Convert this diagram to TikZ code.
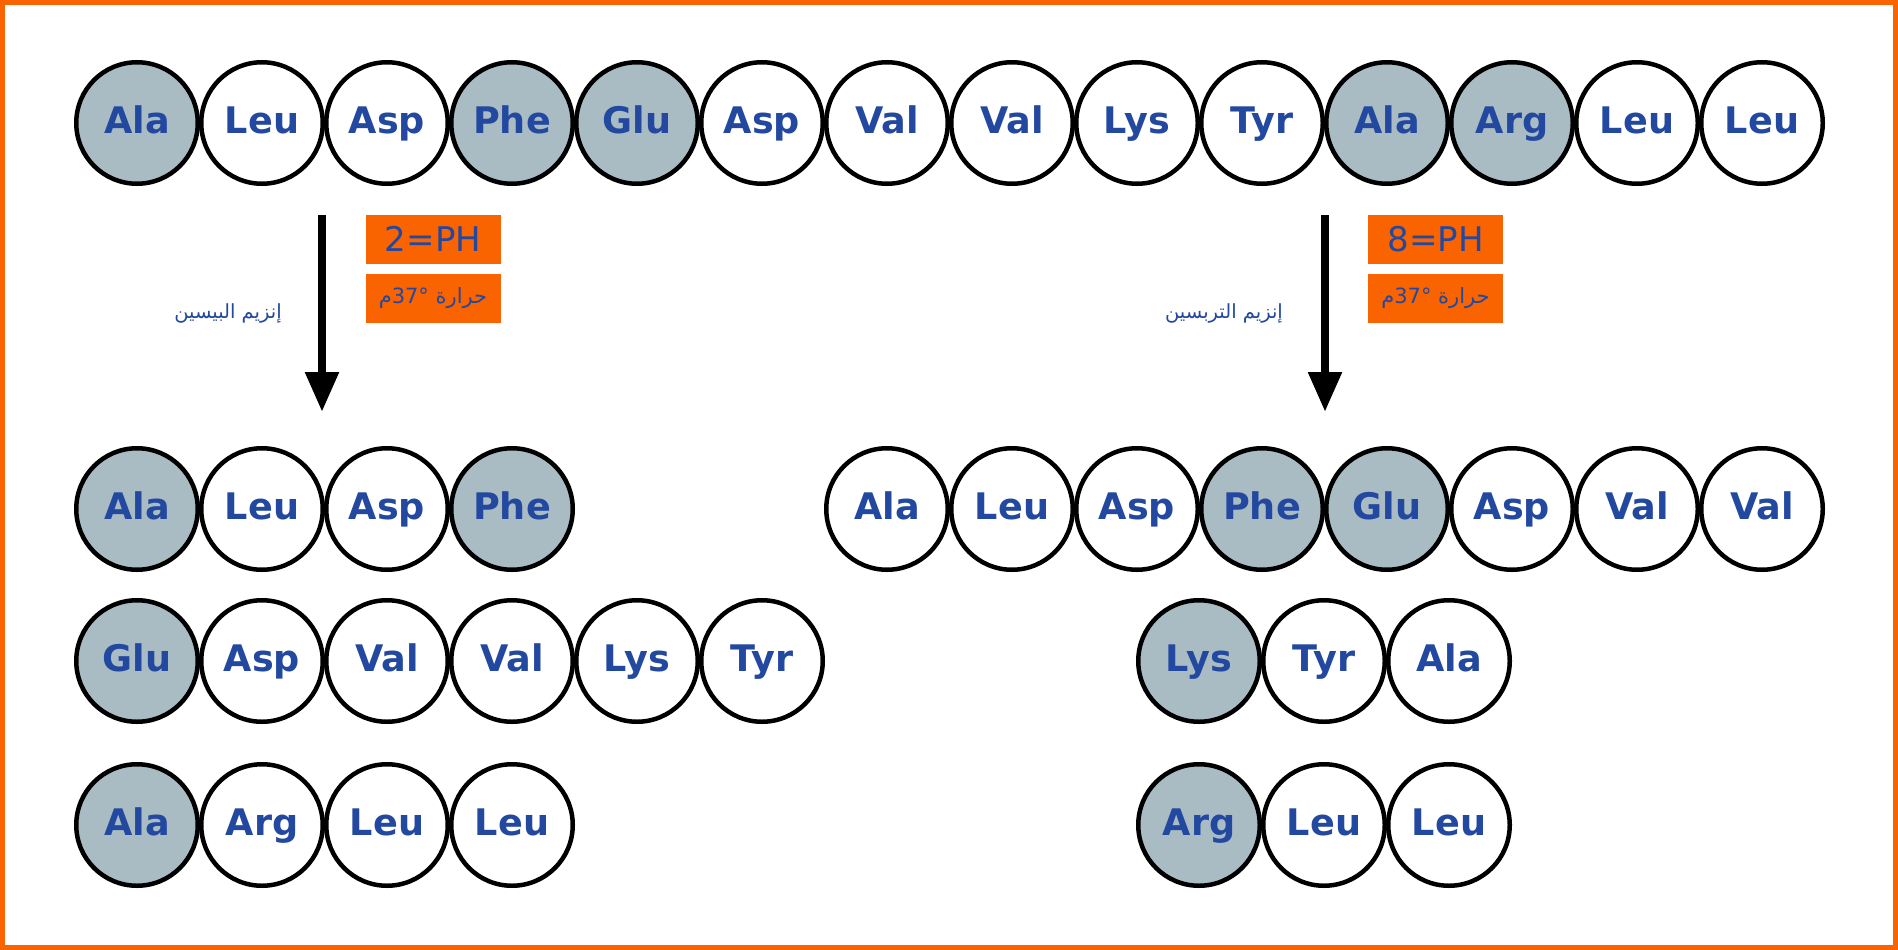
\documentclass[tikz,border=0pt]{standalone}
\usepackage{fontspec}
\setmainfont{DejaVu Sans}
\newfontfamily\arabicfont[Script=Arabic]{DejaVu Sans}
\TeXXeTstate=1
\usetikzlibrary{arrows.meta}
\definecolor{frameorange}{RGB}{250,100,0}
\definecolor{aminoblue}{RGB}{35,72,160}
\definecolor{greyfill}{RGB}{170,188,195}
\begin{document}
\begin{tikzpicture}[x=1pt,y=-1pt,
  amino/.style={circle,draw=black,line width=4.5pt,minimum size=121.5pt,inner sep=0pt,
    fill=white,text=aminoblue,font=\fontsize{36.6}{40}\selectfont\bfseries,
    text height=26.7pt,text depth=6pt},
  hydro/.style={amino,fill=greyfill},
  condbox/.style={fill=frameorange,minimum width=135pt,minimum height=49pt,inner sep=0pt,
    text=aminoblue},
  phtext/.style={font=\fontsize{34}{40}\selectfont,text height=24.8pt,text depth=0pt},
  artext/.style={font=\arabicfont\fontsize{21}{24}\selectfont},
  enzyme/.style={text=aminoblue,font=\arabicfont\fontsize{19.5}{23}\selectfont},
  flow/.style={line width=8.5pt,-{Triangle[length=40pt,width=32pt]}}]
\useasboundingbox (0,0) rectangle (1898,950);
\draw[frameorange,line width=5pt,fill=white] (2.5,2.5) rectangle (1895.5,947.5);
% top chain
\foreach \lab/\st [count=\i from 0] in {Ala/hydro,Leu/amino,Asp/amino,Phe/hydro,Glu/hydro,Asp/amino,Val/amino,Val/amino,Lys/amino,Tyr/amino,Ala/hydro,Arg/hydro,Leu/amino,Leu/amino}
  \node[\st] (t\i) at ({137+125*\i},123) {\lab};
% left products
\foreach \lab/\st [count=\i from 0] in {Ala/hydro,Leu/amino,Asp/amino,Phe/hydro}
  \node[\st] (la\i) at ({137+125*\i},509) {\lab};
\foreach \lab/\st [count=\i from 0] in {Glu/hydro,Asp/amino,Val/amino,Val/amino,Lys/amino,Tyr/amino}
  \node[\st] (lb\i) at ({137+125*\i},661) {\lab};
\foreach \lab/\st [count=\i from 0] in {Ala/hydro,Arg/amino,Leu/amino,Leu/amino}
  \node[\st] (lc\i) at ({137+125*\i},825) {\lab};
% right products
\foreach \lab/\st [count=\i from 0] in {Ala/amino,Leu/amino,Asp/amino,Phe/hydro,Glu/hydro,Asp/amino,Val/amino,Val/amino}
  \node[\st] (ra\i) at ({887+125*\i},509) {\lab};
\foreach \lab/\st [count=\i from 0] in {Lys/hydro,Tyr/amino,Ala/amino}
  \node[\st] (rb\i) at ({1199+125*\i},661) {\lab};
\foreach \lab/\st [count=\i from 0] in {Arg/hydro,Leu/amino,Leu/amino}
  \node[\st] (rc\i) at ({1199+125*\i},825) {\lab};
% conditions
\node[condbox,phtext] (lph) at (433,239.5) {2=PH};
\node[condbox,artext] (ltemp) at (433,298.5) {\beginR حرارة °\beginL37\endL م\endR};
\node[condbox,phtext] (rph) at (1435.5,239.5) {8=PH};
\node[condbox,artext] (rtemp) at (1435.5,298.5) {\beginR حرارة °\beginL37\endL م\endR};
% enzymes
\node[enzyme] (lenz) at (228,313) {\beginR إنزيم البيسين\endR};
\node[enzyme] (renz) at (1224,313) {\beginR إنزيم التربسين\endR};
% arrows
\coordinate (la) at (322,215);
\coordinate (lb) at (322,412);
\coordinate (ra) at (1325,215);
\coordinate (rb) at (1325,412);
\draw[flow] (la) -- (lb);
\draw[flow] (ra) -- (rb);
\end{tikzpicture}
\end{document}
